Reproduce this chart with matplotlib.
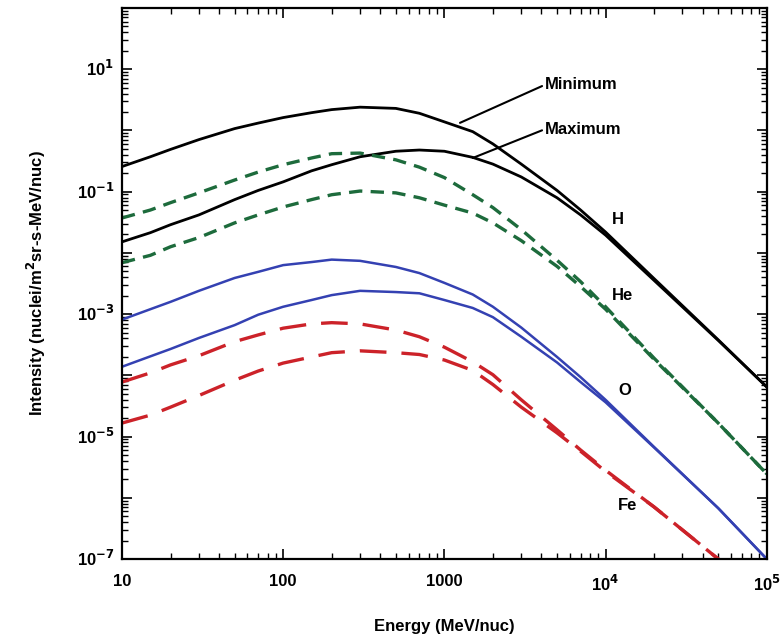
import matplotlib
matplotlib.use("Agg")
import matplotlib.pyplot as plt
import matplotlib.ticker as mticker
import numpy as np

# Energy grid (MeV/nuc) and log10 intensities
energy = [10, 15, 20, 30, 50, 70, 100, 150, 200, 300, 500, 700,
          1000, 1500, 2000, 3000, 5000, 7000, 1e4, 2e4, 5e4, 1e5]

h_min = [-0.59, -0.43, -0.31, -0.15, 0.03, 0.12, 0.21, 0.29, 0.34, 0.38, 0.36, 0.28,
         0.14, -0.02, -0.22, -0.55, -0.98, -1.30, -1.66, -2.42, -3.42, -4.19]
h_max = [-1.82, -1.67, -1.54, -1.38, -1.13, -0.98, -0.84, -0.66, -0.56, -0.43, -0.34, -0.32,
         -0.34, -0.44, -0.55, -0.76, -1.10, -1.38, -1.71, -2.45, -3.43, -4.19]
he_min = [-1.43, -1.30, -1.18, -1.02, -0.81, -0.68, -0.56, -0.45, -0.38, -0.37, -0.48, -0.60,
          -0.77, -1.05, -1.26, -1.62, -2.12, -2.47, -2.88, -3.72, -4.78, -5.61]
he_max = [-2.16, -2.04, -1.90, -1.75, -1.51, -1.38, -1.25, -1.13, -1.05, -0.99, -1.02, -1.10,
          -1.22, -1.35, -1.51, -1.80, -2.22, -2.55, -2.92, -3.74, -4.78, -5.61]
o_min = [-3.09, -2.92, -2.80, -2.62, -2.41, -2.31, -2.20, -2.15, -2.11, -2.13, -2.23, -2.33,
         -2.49, -2.68, -2.88, -3.22, -3.70, -4.03, -4.40, -5.17, -6.17, -7.00]
o_max = [-3.86, -3.69, -3.57, -3.39, -3.18, -3.01, -2.88, -2.77, -2.69, -2.62, -2.64, -2.66,
         -2.77, -2.90, -3.05, -3.37, -3.79, -4.11, -4.44, -5.18, -6.17, -7.00]
fe_min = [-4.11, -3.96, -3.83, -3.68, -3.45, -3.34, -3.23, -3.16, -3.14, -3.16, -3.26, -3.37,
          -3.54, -3.78, -3.99, -4.40, -4.89, -5.22, -5.55, -6.15, -7.00, -7.62]
fe_max = [-4.78, -4.65, -4.52, -4.33, -4.08, -3.93, -3.80, -3.70, -3.63, -3.60, -3.63, -3.66,
          -3.75, -3.92, -4.15, -4.52, -4.94, -5.24, -5.57, -6.15, -7.00, -7.62]

xtick_vals = [10, 100, 1000, 1e4, 1e5]
xtick_labels = ["10", "100", "1000", r"10$^4$", r"10$^5$"]
ytick_vals = [1e-7, 1e-5, 1e-3, 1e-1, 1e1]
ytick_labels = [r"10$^{-7}$", r"10$^{-5}$", r"10$^{-3}$", r"10$^{-1}$", r"10$^{1}$"]

plt.rcParams['font.family'] = ['Liberation Sans', 'DejaVu Sans']
plt.rcParams['font.weight'] = 'bold'
plt.rcParams['mathtext.default'] = 'bf'
plt.rcParams['lines.solid_joinstyle'] = 'round'
plt.rcParams['lines.dash_joinstyle'] = 'round'

green = "#1d6b3c"
blue = "#3441b2"
red = "#cc2229"

fig = plt.figure(figsize=(7.84, 6.44), dpi=100)
ax = fig.add_axes([0.1556, 0.132, 0.8224, 0.8556])

def p(vals):
    return 10 ** np.array(vals)

ax.plot(energy, p(h_min), color="black", lw=2.0)
ax.plot(energy, p(h_max), color="black", lw=2.0)
ax.plot(energy, p(he_min), color=green, lw=2.4, dashes=(4, 2.5))
ax.plot(energy, p(he_max), color=green, lw=2.4, dashes=(4, 2.5))
ax.plot(energy, p(o_min), color=blue, lw=1.8)
ax.plot(energy, p(o_max), color=blue, lw=1.8)
ax.plot(energy, p(fe_min), color=red, lw=2.4, dashes=(8, 4.5))
ax.plot(energy, p(fe_max), color=red, lw=2.4, dashes=(8, 4.5))

ax.set_xscale("log")
ax.set_yscale("log")
ax.set_xlim(10, 1e5)
ax.set_ylim(1e-7, 1e2)

ax.set_xticks(xtick_vals)
ax.set_xticklabels(xtick_labels)
ax.yaxis.set_major_locator(mticker.LogLocator(base=10, numticks=20))
ax.yaxis.set_minor_locator(mticker.LogLocator(base=10, subs=np.arange(2, 10), numticks=20))
ax.xaxis.set_minor_locator(mticker.LogLocator(base=10, subs=np.arange(2, 10), numticks=20))
ax.yaxis.set_major_formatter(mticker.NullFormatter())
ax.yaxis.set_minor_formatter(mticker.NullFormatter())
ax.xaxis.set_minor_formatter(mticker.NullFormatter())
for v, lab in zip(ytick_vals, ytick_labels):
    ax.text(-0.012, v, lab, transform=ax.get_yaxis_transform(), ha="right", va="center",
            fontsize=12, fontweight="bold")

ax.tick_params(which="both", direction="in", top=True, right=True, labelsize=12)
ax.tick_params(which="major", length=7, width=1.2)
ax.tick_params(which="minor", length=4, width=1.0)
ax.tick_params(axis="x", pad=11)
for s in ax.spines.values():
    s.set_linewidth(1.6)

ax.set_xlabel("Energy (MeV/nuc)", fontsize=12, fontweight="bold", labelpad=18)
ax.set_ylabel(r"Intensity (nuclei/m$^2$sr-s-MeV/nuc)", fontsize=12, fontweight="bold", labelpad=50)

# species labels
ax.text(1.1e4, 10 ** -1.46, "H", fontsize=12, fontweight="bold", va="center")
ax.text(1.1e4, 10 ** -2.70, "He", fontsize=12, fontweight="bold", va="center")
ax.text(1.2e4, 10 ** -4.24, "O", fontsize=12, fontweight="bold", va="center")
ax.text(1.2e4, 10 ** -6.12, "Fe", fontsize=12, fontweight="bold", va="center")

ax.annotate("Minimum", xy=(1250, 10 ** 0.124), xytext=(4200, 10 ** 0.745),
            fontsize=12, fontweight="bold", va="center",
            arrowprops=dict(arrowstyle="-", color="black", lw=1.5, shrinkA=0, shrinkB=0,
                            relpos=(0, 0.5)))
ax.annotate("Maximum", xy=(1500, 10 ** -0.45), xytext=(4200, 10 ** 0.02),
            fontsize=12, fontweight="bold", va="center",
            arrowprops=dict(arrowstyle="-", color="black", lw=1.5, shrinkA=0, shrinkB=0,
                            relpos=(0, 0.5)))

fig.savefig("out.png", dpi=100)
